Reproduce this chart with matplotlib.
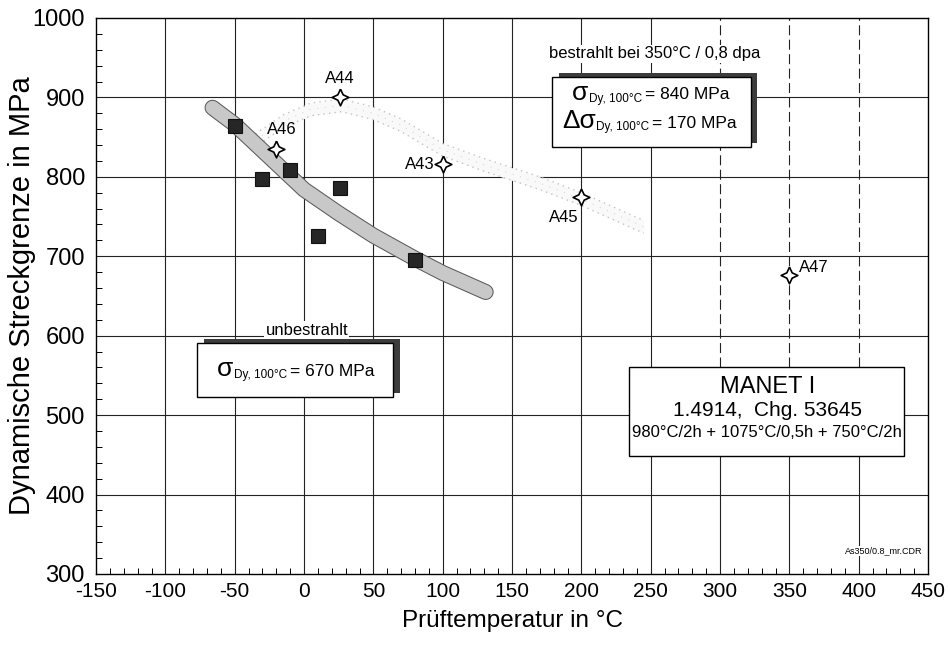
import matplotlib
matplotlib.use('Agg')
import matplotlib.pyplot as plt
import matplotlib.patheffects as pe
from matplotlib.patches import Rectangle
from matplotlib.ticker import MultipleLocator

plt.rcParams['font.family'] = ['Liberation Sans', 'DejaVu Sans']
plt.rcParams['axes.unicode_minus'] = False

# Messwerte unbestrahlt (Quadrate)
temp_unbestr = [-50, -30, -10, 10, 26, 80]
rp_unbestr = [864, 797, 809, 725, 786, 695]

# Messwerte bestrahlt (Sterne) mit Probenbezeichnung
temp_bestr = [26, -20, 100, 200, 350]
rp_bestr = [900, 835, 816, 774, 677]
namen_bestr = ['A44', 'A46', 'A43', 'A45', 'A47']

# Streuband unbestrahlt
band_u_x = [-66, -50, -25, 0, 25, 50, 80, 100, 131]
band_u_y = [887, 866, 825, 784, 754, 726, 697, 679, 655]

# Streuband bestrahlt
band_b_x = [-35, -15, 5, 27, 50, 70, 100, 130, 170, 200, 245]
band_b_y = [846, 870, 885, 890, 880, 865, 834, 815, 792, 772, 737]

x_ticks = list(range(-150, 451, 50))
y_ticks = list(range(300, 1001, 100))

fig = plt.figure(figsize=(9.5, 6.53), dpi=100)
ax = fig.add_axes([0.1011, 0.121, 0.8758, 0.8515])
ax.set_xlim(-150, 450)
ax.set_ylim(300, 1000)

# Gitter: ab 300 °C oben gestrichelt
for x in x_ticks[1:-1]:
    if x >= 300:
        ax.vlines(x, 560, 1000, color='#222222', lw=0.8, linestyles=(0, (9, 4)), zorder=1)
        ax.vlines(x, 300, 560, color='#222222', lw=0.8, zorder=1)
    else:
        ax.axvline(x, color='#222222', lw=0.8, zorder=1)
for y in y_ticks[1:-1]:
    ax.axhline(y, color='#222222', lw=0.8, zorder=1)

# Streuband bestrahlt (punktiert, schwach)
lo = [v - 8 for v in band_b_y]
hi = [v + 8 for v in band_b_y]
ax.fill_between(band_b_x, lo, hi, color='#f9f9f9', lw=0, zorder=1.5)
ax.plot(band_b_x, hi, color='#c4c4c4', lw=1.0, ls=(0, (1, 3)), zorder=1.6)
ax.plot(band_b_x, lo, color='#c4c4c4', lw=1.0, ls=(1, (1, 3)), zorder=1.6)
ax.plot(band_b_x, band_b_y, color='#d8d8d8', lw=0.8, ls=(0, (1, 6)), zorder=1.6)

# Streuband unbestrahlt
ax.plot(band_u_x, band_u_y, color='#c8c8c8', lw=10, solid_capstyle='round',
        solid_joinstyle='round', zorder=2,
        path_effects=[pe.Stroke(linewidth=11.5, foreground='#5a5a5a'), pe.Normal()])

ax.plot(temp_unbestr, rp_unbestr, ls='none', marker='s', ms=10.5,
        mfc='#262626', mec='#111111', mew=0.8, zorder=3)

a = 0.32
stern = [(0, 1), (a, a), (1, 0), (a, -a), (0, -1), (-a, -a), (-1, 0), (-a, a), (0, 1)]
ax.plot(temp_bestr, rp_bestr, ls='none', marker=stern, ms=12,
        mfc='white', mec='black', mew=1.2, zorder=3)

label_pos = {'A44': ((0, 8), 'center', 'bottom'),
             'A46': ((4, 9), 'center', 'bottom'),
             'A43': ((-6, 0), 'right', 'center'),
             'A45': ((-13, -9), 'center', 'top'),
             'A47': ((7, 0), 'left', 'bottom')}
for t, r, n in zip(temp_bestr, rp_bestr, namen_bestr):
    off, ha, va = label_pos[n]
    ax.annotate(n, (t, r), xytext=off, textcoords='offset points',
                ha=ha, va=va, fontsize=12, zorder=4)


def kasten(x0, y0, x1, y1, schatten=True):
    if schatten:
        ax.add_patch(Rectangle((x0 + 5, y0 + 5), x1 - x0, y1 - y0,
                               facecolor='#3c3c3c', edgecolor='none', zorder=4))
    ax.add_patch(Rectangle((x0, y0), x1 - x0, y1 - y0, facecolor='white',
                           edgecolor='black', lw=1.0, zorder=4.5))


def sigma_zeile(x, y, prefix, wert):
    s = ax.text(x, y, prefix + 'σ', fontsize=19, ha='left', va='bottom', zorder=5)
    sub = ax.annotate('Dy, 100°C', xy=(1, 0), xycoords=s, xytext=(0.5, 0),
                      textcoords='offset points', fontsize=8.5, ha='left',
                      va='bottom', zorder=5)
    ax.annotate(f'= {wert} MPa', xy=(1, 0), xycoords=(sub, s), xytext=(2, 1.5),
                textcoords='offset points', fontsize=12.5, ha='left',
                va='bottom', zorder=5)


# Kasten bestrahlt
kasten(179, 838, 322, 926)
ax.text(253, 955, 'bestrahlt bei 350°C / 0,8 dpa', fontsize=12, ha='center',
        va='center', zorder=5,
        bbox=dict(facecolor='white', edgecolor='none', pad=1))
sigma_zeile(193, 891, '', 840)
sigma_zeile(186, 855, 'Δ', 170)

# Kasten unbestrahlt
kasten(-77, 523, 64, 591)
ax.text(2, 607, 'unbestrahlt', fontsize=12, ha='center', va='center', zorder=5,
        bbox=dict(facecolor='white', edgecolor='none', pad=1))
sigma_zeile(-63, 543, '', 670)

# Werkstoffkasten
kasten(234, 449, 433, 560, schatten=False)
ax.text(334, 536, 'MANET I', fontsize=17, ha='center', va='center', zorder=5)
ax.text(334, 506, '1.4914,  Chg. 53645', fontsize=15, ha='center', va='center', zorder=5)
ax.text(334, 478, '980°C/2h + 1075°C/0,5h + 750°C/2h', fontsize=12,
        ha='center', va='center', zorder=5)

ax.text(446, 329, 'As350/0.8_mr.CDR', fontsize=6.5, ha='right', va='center',
        zorder=5, bbox=dict(facecolor='white', edgecolor='none', pad=0.5))

ax.set_xticks(x_ticks)
ax.set_yticks(y_ticks)
ax.xaxis.set_minor_locator(MultipleLocator(10))
ax.yaxis.set_minor_locator(MultipleLocator(20))
ax.tick_params(which='both', direction='in', top=False, right=False)
ax.tick_params(which='major', length=0)
ax.tick_params(which='minor', length=4, width=0.7)
ax.tick_params(axis='x', pad=6, labelsize=15)
ax.tick_params(axis='y', pad=8, labelsize=17)

ax.set_xlabel('Prüftemperatur in °C', fontsize=17.5)
ax.set_ylabel('Dynamische Streckgrenze in MPa', fontsize=21)
ax.xaxis.set_label_coords(0.5, -0.065)
ax.yaxis.set_label_coords(-0.072, 0.5)
for sp in ax.spines.values():
    sp.set_linewidth(1.0)

fig.savefig('out.png', dpi=100)
